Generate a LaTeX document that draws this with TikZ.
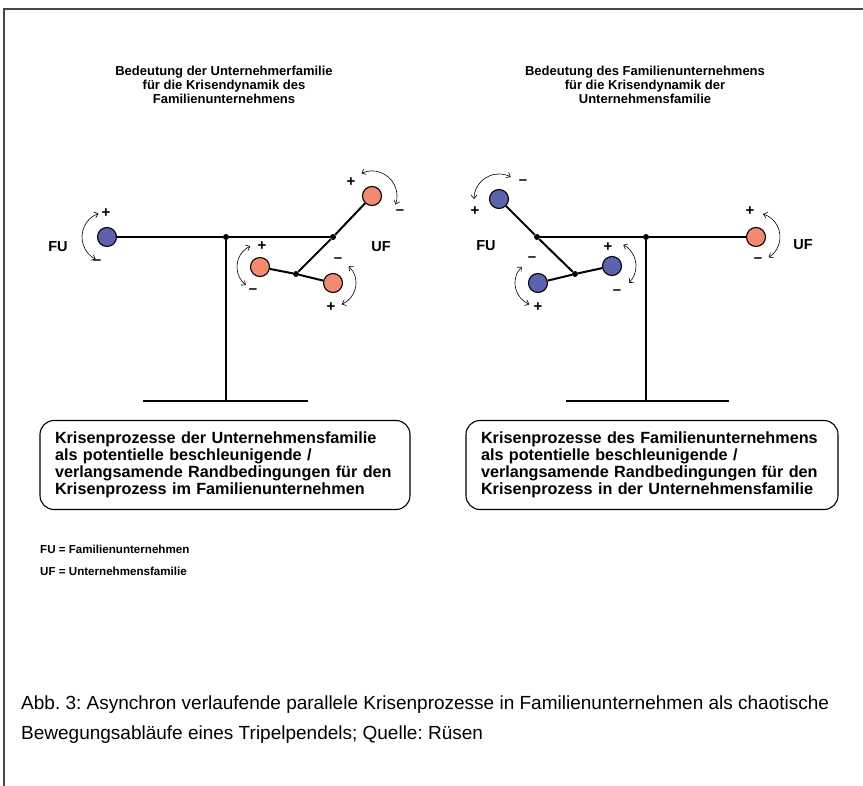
\documentclass[tikz,border=0pt]{standalone}
\usepackage{fontspec}
\setmainfont{Liberation Sans}
\usetikzlibrary{arrows.meta}
\definecolor{famblue}{RGB}{92,98,172}
\definecolor{famorange}{RGB}{240,138,112}
\definecolor{framegray}{RGB}{70,70,70}
\frenchspacing

\begin{document}
\begin{tikzpicture}[x=1pt,y=-1pt,
  rod/.style={line width=2pt, black},
  ball/.style={circle, draw=black, line width=1.1pt, minimum size=19pt, inner sep=0pt},
  blueball/.style={ball, fill=famblue},
  orangeball/.style={ball, fill=famorange},
  joint/.style={circle, fill=black, minimum size=6pt, inner sep=0pt},
  swing/.style={line width=0.6pt, {Straight Barb[length=3.5pt,width=6pt]}-{Straight Barb[length=3.5pt,width=6pt]}},
  sign/.style={font=\bfseries\fontsize{15}{15}\selectfont, inner sep=0pt},
  pendlabel/.style={font=\bfseries\fontsize{14.5}{16}\selectfont, inner sep=0pt},
  heading/.style={anchor=north, inner sep=0pt, align=center, font=\bfseries\fontsize{13}{14}\selectfont},
  infobox/.style={draw, line width=1.1pt, rounded corners=14pt, minimum width=370pt, minimum height=89pt,
    text width=340pt, inner xsep=15pt, align=left, font=\bfseries\fontsize{16.2}{17.2}\selectfont},
  legend/.style={anchor=base west, inner sep=0pt, font=\bfseries\fontsize{11.6}{13}\selectfont},
  caption/.style={anchor=base west, inner sep=0pt, font=\fontsize{19}{20}\selectfont},
]
\useasboundingbox (0,0) rectangle (863,786);

% page frame (top and left edge)
\draw[framegray, line width=1.3pt] (4,786) -- (4,9) -- (863,9);

% ---------------- left pendulum ----------------
\node[heading] (lhead) at (224,66)
  {Bedeutung der Unternehmerfamilie\\für die Krisendynamik des\\Familienunternehmens};

\coordinate (lbase) at (226,401);
\coordinate (lbase1) at (143,401);
\coordinate (lbase2) at (308,401);
\node[joint] (lp) at (226,237) {};
\node[joint] (lj) at (333,237) {};
\node[joint] (lk) at (296,274) {};
\node[blueball] (lfu) at (107,237) {};
\node[orangeball] (lt) at (372,196) {};
\node[orangeball] (ll) at (260,267) {};
\node[orangeball] (lr) at (333,283) {};

\draw[rod] (lfu) -- (lp) -- (lj);
\draw[rod] (lp) -- (lbase);
\draw[rod] (lbase1) -- (lbase2);
\draw[rod] (lj) -- (lt);
\draw[rod] (lj) -- (lk);
\draw[rod] (lk) -- (ll);
\draw[rod] (lk) -- (lr);

\draw[swing] ([shift={(250:25)}]lfu.center) arc[start angle=250, end angle=117, radius=25];
\draw[swing] ([shift={(245:25)}]lt.center) arc[start angle=245, end angle=380, radius=25];
\draw[swing] ([shift={(245:23)}]ll.center) arc[start angle=245, end angle=128, radius=23];
\draw[swing] ([shift={(313:23)}]lr.center) arc[start angle=313, end angle=428, radius=23];

\node[sign] (s1) at (106,213) {+};
\node[sign] (s2) at (97,262) {–};
\node[sign] (s3) at (351,182) {+};
\node[sign] (s4) at (400,212) {–};
\node[sign] (s5) at (262,246) {+};
\node[sign] (s6) at (253,291) {–};
\node[sign] (s7) at (338,260) {–};
\node[sign] (s8) at (331,307) {+};

\node[pendlabel] (lfulab) at (58,247) {FU};
\node[pendlabel] (luflab) at (381,247) {UF};

% ---------------- right pendulum ----------------
\node[heading] (rhead) at (645,66)
  {Bedeutung des Familienunternehmens\\für die Krisendynamik der\\Unternehmensfamilie};

\coordinate (rbase) at (646,401);
\coordinate (rbase1) at (566,401);
\coordinate (rbase2) at (729,401);
\node[joint] (rp) at (646,237) {};
\node[joint] (rj) at (537,237) {};
\node[joint] (rk) at (575,274) {};
\node[orangeball] (ruf) at (756,237) {};
\node[blueball] (rt) at (499,199) {};
\node[blueball] (rr) at (612,266) {};
\node[blueball] (rl) at (538,283) {};

\draw[rod] (rj) -- (rp) -- (ruf);
\draw[rod] (rp) -- (rbase);
\draw[rod] (rbase1) -- (rbase2);
\draw[rod] (rj) -- (rt);
\draw[rod] (rj) -- (rk);
\draw[rod] (rk) -- (rr);
\draw[rod] (rk) -- (rl);

\draw[swing] ([shift={(180:25)}]rt.center) arc[start angle=180, end angle=298, radius=25];
\draw[swing] ([shift={(287:24)}]ruf.center) arc[start angle=287, end angle=418, radius=24];
\draw[swing] ([shift={(298:24)}]rr.center) arc[start angle=298, end angle=405, radius=24];
\draw[swing] ([shift={(225:23)}]rl.center) arc[start angle=225, end angle=112, radius=23];

\node[sign] (t1) at (523,182) {–};
\node[sign] (t2) at (475,211) {+};
\node[sign] (t3) at (750,211) {+};
\node[sign] (t4) at (758,260) {–};
\node[sign] (t5) at (608,247) {+};
\node[sign] (t6) at (617,292) {–};
\node[sign] (t7) at (532,259) {–};
\node[sign] (t8) at (538,307) {+};

\node[pendlabel] (rfulab) at (486,246) {FU};
\node[pendlabel] (ruflab) at (803,245) {UF};

% ---------------- boxes ----------------
\node[infobox] (lbox) at (225,465)
  {Krisenprozesse der Unternehmensfamilie\\als potentielle beschleunigende /\\verlangsamende Randbedingungen für den\\Krisenprozess im Familienunternehmen};
\node[infobox, minimum width=372pt, text width=342pt] (rbox) at (652,465)
  {Krisenprozesse des Familienunternehmens\\als potentielle beschleunigende /\\verlangsamende Randbedingungen für den\\Krisenprozess in der Unternehmensfamilie};

% ---------------- legend and caption ----------------
\node[legend] (leg1) at (40,553) {FU = Familienunternehmen};
\node[legend] (leg2) at (40,575) {UF = Unternehmensfamilie};

\node[caption] (cap1) at (21,709) {Abb. 3: Asynchron verlaufende parallele Krisenprozesse in Familienunternehmen als chaotische};
\node[caption] (cap2) at (21,739) {Bewegungsabläufe eines Tripelpendels; Quelle: Rüsen};
\end{tikzpicture}
\end{document}
